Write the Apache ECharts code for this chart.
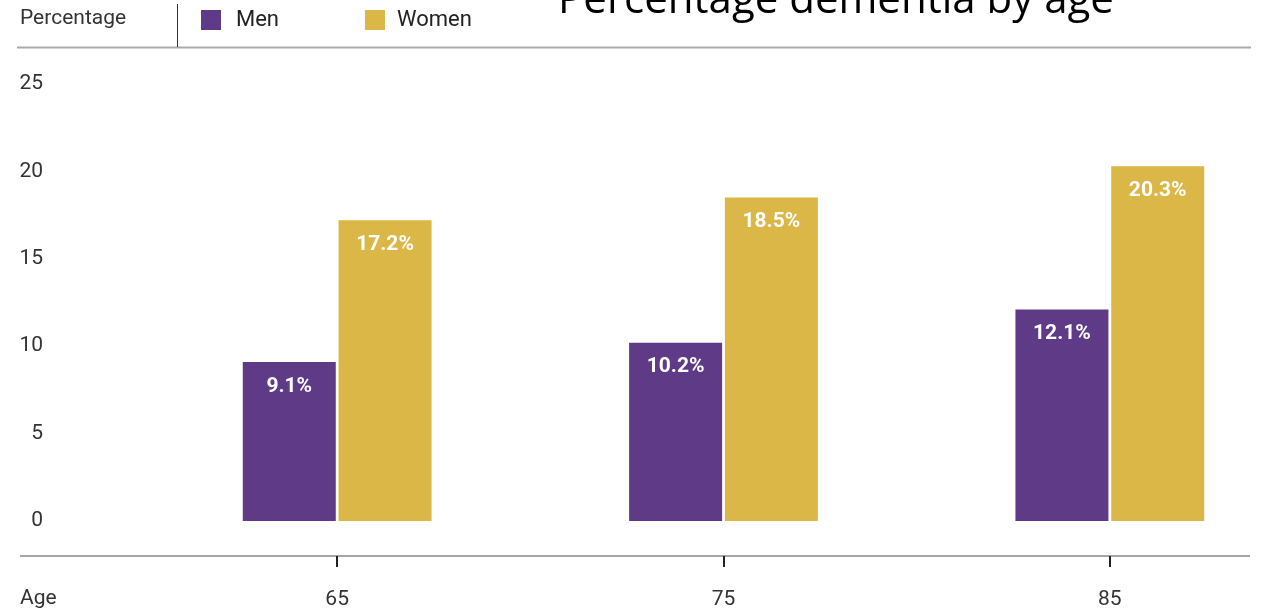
<!DOCTYPE html>
<html>
<head>
<meta charset="utf-8">
<script src="https://cdn.jsdelivr.net/npm/echarts@6/dist/echarts.min.js"></script>
<style>
  html, body { margin: 0; padding: 0; background: #fff; }
  #chart { width: 1261px; height: 613px; }
</style>
</head>
<body>
<div id="chart"></div>
<script>
// Dementia prevalence by age and sex
const ages = ['65', '75', '85'];
const men = [9.1, 10.2, 12.1];
const women = [17.2, 18.5, 20.3];
const yTicks = { min: 0, max: 25, interval: 5 };

const PURPLE = '#5e3a87';
const GOLD = '#dab746';
const LABEL_FONT = 'Roboto, "Liberation Sans", Arial, sans-serif';

const chart = echarts.init(document.getElementById('chart'), null, { renderer: 'canvas' });

const barLabel = {
  show: true,
  position: 'insideTop',
  distance: 14,
  color: '#fff',
  fontFamily: LABEL_FONT,
  fontWeight: 'bold',
  fontSize: 21,
  formatter: p => p.value.toFixed(1) + '%'
};

const legendBase = {
  top: 9,
  padding: 0,
  itemWidth: 20,
  itemHeight: 20,
  icon: 'rect',
  selectedMode: false,
  textStyle: { fontFamily: LABEL_FONT, fontSize: 22, color: '#222' }
};

chart.setOption({
  animation: false,
  backgroundColor: '#fff',
  legend: [
    Object.assign({}, legendBase, { left: 201, data: ['Men'],
      textStyle: Object.assign({}, legendBase.textStyle, { padding: [0, 0, 0, 10] }) }),
    Object.assign({}, legendBase, { left: 365, data: ['Women'],
      textStyle: Object.assign({}, legendBase.textStyle, { padding: [0, 0, 0, 7] }) })
  ],
  grid: {
    left: 144,
    width: 1159,
    top: 84,
    bottom: 92,
    containLabel: false,
    outerBoundsMode: 'none'
  },
  xAxis: {
    type: 'category',
    data: ages,
    offset: 35,
    axisLine: { show: true, onZero: false, lineStyle: { color: 'rgba(0,0,0,0)' } },
    axisTick: { show: true, alignWithLabel: true, length: 11, lineStyle: { color: '#222', width: 2 } },
    axisLabel: { margin: 33, fontFamily: LABEL_FONT, fontSize: 21, color: '#333' },
    splitLine: { show: false }
  },
  yAxis: {
    type: 'value',
    min: yTicks.min,
    max: yTicks.max,
    interval: yTicks.interval,
    axisLine: { show: false },
    axisTick: { show: false },
    splitLine: { show: false },
    axisLabel: { margin: 101, align: 'right', padding: [4, 0, 0, 0], fontFamily: LABEL_FONT, fontSize: 21, color: '#333' }
  },
  series: [
    { name: 'Men', type: 'bar', data: men, barWidth: 93, barGap: '3%',
      itemStyle: { color: PURPLE }, label: barLabel },
    { name: 'Women', type: 'bar', data: women, barWidth: 93,
      itemStyle: { color: GOLD }, label: barLabel }
  ],
  graphic: [
    // header rule and divider
    { type: 'line', shape: { x1: 17, y1: 47.5, x2: 1251, y2: 47.5 }, style: { stroke: '#aaa', lineWidth: 2 } },
    { type: 'line', shape: { x1: 177.5, y1: 4, x2: 177.5, y2: 47 }, style: { stroke: '#333', lineWidth: 1 } },
    // baseline under the bars
    { type: 'line', shape: { x1: 20, y1: 556, x2: 1250, y2: 556 }, style: { stroke: '#888', lineWidth: 1.5 } },
    { type: 'text', x: 20, y: 19, style: { text: 'Percentage', font: '21px ' + LABEL_FONT, fill: '#333', verticalAlign: 'middle' } },
    { type: 'text', x: 20, y: 599, style: { text: 'Age', font: '21px ' + LABEL_FONT, fill: '#333', verticalAlign: 'middle' } },
    { type: 'text', x: 836, y: 1, style: { text: 'Percentage dementia by age', font: '42px "Open Sans", "Noto Sans", sans-serif', fill: '#000', align: 'center', verticalAlign: 'middle' } }
  ]
});
</script>
</body>
</html>
